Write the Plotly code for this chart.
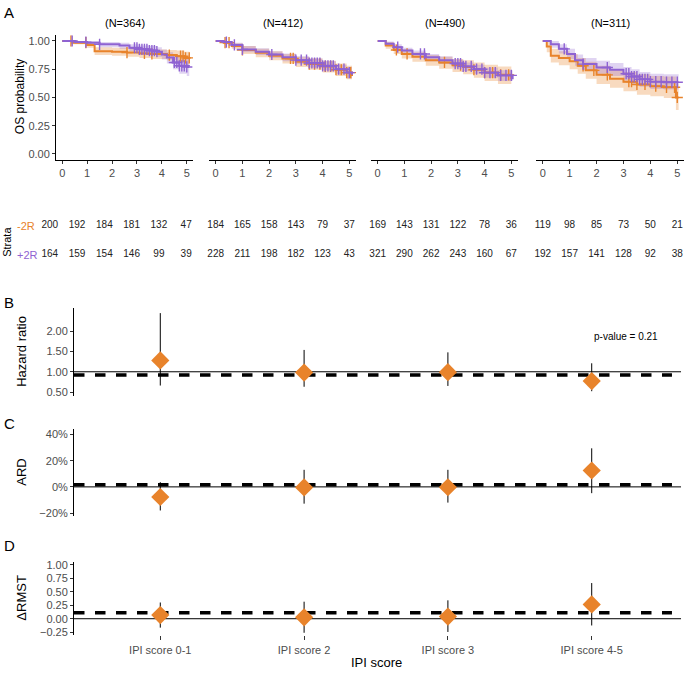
import plotly.graph_objects as go

W, H = 685, 673
ORANGE = '#E8832B'
PURPLE = '#8F63D2'
ORANGE_FILL = 'rgba(232,131,43,0.30)'
PURPLE_FILL = 'rgba(143,99,210,0.28)'
FONT = 'Liberation Sans, Arial, sans-serif'

# ---- data: panel A (Kaplan-Meier by IPI group) ----
n_titles = ['(N=364)', '(N=412)', '(N=490)', '(N=311)']
risk_times = [0, 1, 2, 3, 4, 5]
risk_minus = [[200, 192, 184, 181, 132, 47], [184, 165, 158, 143, 79, 37],
              [169, 143, 131, 122, 78, 36], [119, 98, 85, 73, 50, 21]]
risk_plus = [[164, 159, 154, 146, 99, 39], [228, 211, 198, 182, 123, 43],
             [321, 290, 262, 243, 160, 67], [192, 157, 141, 128, 92, 38]]

# -2R (orange) / +2R (purple) curves: time, survival, lower CI, upper CI
km1_minus_t = [0, 0.4, 1.0, 1.3, 2.0, 2.6, 3.1, 3.6, 4.2, 4.6, 4.9, 5.1]
km1_minus_s = [1.0, 0.985, 0.965, 0.91, 0.905, 0.897, 0.89, 0.885, 0.875, 0.865, 0.85, 0.85]
km1_minus_lo = [1.0, 0.97, 0.94, 0.875, 0.87, 0.86, 0.85, 0.84, 0.83, 0.81, 0.79, 0.79]
km1_minus_hi = [1.0, 1.0, 0.99, 0.945, 0.94, 0.935, 0.93, 0.925, 0.92, 0.915, 0.905, 0.905]
km1_plus_t = [0, 0.5, 1.0, 1.5, 2.3, 2.7, 3.1, 3.5, 3.8, 4.0, 4.2, 4.45, 4.7, 5.0, 5.1]
km1_plus_s = [1.0, 0.99, 0.985, 0.97, 0.96, 0.94, 0.926, 0.915, 0.905, 0.88, 0.853, 0.81, 0.78, 0.77, 0.77]
km1_plus_lo = [1.0, 0.975, 0.965, 0.945, 0.93, 0.91, 0.89, 0.875, 0.86, 0.835, 0.8, 0.75, 0.71, 0.69, 0.69]
km1_plus_hi = [1.0, 1.0, 1.0, 0.99, 0.985, 0.97, 0.96, 0.955, 0.945, 0.925, 0.9, 0.87, 0.845, 0.84, 0.84]

km2_minus_t = [0, 0.3, 0.6, 1.0, 1.5, 2.0, 2.5, 3.0, 3.5, 4.0, 4.5, 4.9, 5.1]
km2_minus_s = [1.0, 0.985, 0.955, 0.92, 0.895, 0.87, 0.845, 0.815, 0.795, 0.775, 0.745, 0.72, 0.69]
km2_minus_lo = [1.0, 0.97, 0.93, 0.885, 0.855, 0.83, 0.8, 0.77, 0.745, 0.72, 0.69, 0.66, 0.62]
km2_minus_hi = [1.0, 1.0, 0.98, 0.955, 0.93, 0.91, 0.885, 0.86, 0.845, 0.825, 0.8, 0.78, 0.76]
km2_plus_t = [0, 0.3, 0.6, 1.0, 1.5, 2.0, 2.5, 3.0, 3.5, 4.0, 4.5, 4.9, 5.1]
km2_plus_s = [1.0, 0.99, 0.965, 0.925, 0.905, 0.88, 0.855, 0.83, 0.805, 0.78, 0.75, 0.72, 0.70]
km2_plus_lo = [1.0, 0.975, 0.945, 0.9, 0.875, 0.85, 0.82, 0.795, 0.765, 0.74, 0.705, 0.67, 0.65]
km2_plus_hi = [1.0, 1.0, 0.985, 0.955, 0.935, 0.91, 0.89, 0.865, 0.845, 0.82, 0.79, 0.77, 0.75]

km3_minus_t = [0, 0.3, 0.6, 0.9, 1.3, 1.8, 2.3, 2.8, 3.2, 3.6, 4.0, 4.5, 5.0]
km3_minus_s = [1.0, 0.96, 0.92, 0.885, 0.86, 0.83, 0.81, 0.785, 0.77, 0.745, 0.72, 0.70, 0.66]
km3_minus_lo = [1.0, 0.93, 0.885, 0.845, 0.815, 0.78, 0.755, 0.725, 0.705, 0.675, 0.645, 0.62, 0.56]
km3_minus_hi = [1.0, 0.99, 0.955, 0.925, 0.9, 0.875, 0.86, 0.84, 0.83, 0.81, 0.79, 0.775, 0.75]
km3_plus_t = [0, 0.3, 0.6, 0.9, 1.3, 1.8, 2.3, 2.8, 3.2, 3.6, 4.0, 4.5, 5.05]
km3_plus_s = [1.0, 0.975, 0.945, 0.915, 0.885, 0.855, 0.83, 0.80, 0.775, 0.75, 0.72, 0.695, 0.66]
km3_plus_lo = [1.0, 0.955, 0.92, 0.89, 0.855, 0.82, 0.795, 0.765, 0.735, 0.71, 0.675, 0.645, 0.61]
km3_plus_hi = [1.0, 0.995, 0.97, 0.94, 0.915, 0.885, 0.865, 0.835, 0.81, 0.79, 0.765, 0.74, 0.71]

km4_minus_t = [0, 0.15, 0.3, 0.6, 1.0, 1.3, 1.6, 2.0, 2.5, 3.0, 3.5, 4.0, 4.5, 4.95, 5.05]
km4_minus_s = [1.0, 0.95, 0.87, 0.85, 0.82, 0.78, 0.74, 0.70, 0.665, 0.64, 0.615, 0.60, 0.59, 0.50, 0.50]
km4_minus_lo = [1.0, 0.9, 0.81, 0.785, 0.75, 0.71, 0.665, 0.62, 0.585, 0.555, 0.525, 0.51, 0.495, 0.39, 0.39]
km4_minus_hi = [1.0, 0.99, 0.93, 0.91, 0.885, 0.85, 0.815, 0.78, 0.75, 0.725, 0.705, 0.69, 0.685, 0.62, 0.62]
km4_plus_t = [0, 0.3, 0.6, 0.9, 1.2, 1.5, 2.0, 2.5, 3.0, 3.3, 3.6, 4.0, 4.5, 5.05]
km4_plus_s = [1.0, 0.97, 0.93, 0.885, 0.83, 0.795, 0.765, 0.745, 0.71, 0.685, 0.66, 0.64, 0.635, 0.635]
km4_plus_lo = [1.0, 0.94, 0.89, 0.84, 0.78, 0.74, 0.71, 0.69, 0.65, 0.62, 0.595, 0.575, 0.57, 0.57]
km4_plus_hi = [1.0, 1.0, 0.97, 0.93, 0.88, 0.85, 0.825, 0.805, 0.77, 0.75, 0.725, 0.71, 0.705, 0.705]

cens1_minus = [0.35, 0.95, 2.6, 3.3, 3.6, 4.3, 4.75, 4.85, 4.95, 5.1]
cens1_plus = [0.4, 0.95, 1.5, 2.9, 3.0, 3.1, 3.2, 3.3, 3.4, 3.5, 3.6, 3.7, 3.8, 4.5, 4.6, 4.7, 4.8, 4.9, 5.0]
cens2_minus = [0.35, 0.5, 1.0, 2.8, 2.9, 3.5, 3.7, 3.9, 4.1, 4.3, 4.5, 4.7, 4.9, 5.05]
cens2_plus = [0.4, 0.7, 1.0, 2.1, 3.0, 3.2, 3.4, 3.5, 3.6, 3.7, 3.8, 3.9, 4.0, 4.1, 4.2, 4.3, 4.4, 4.6, 4.8, 5.0]
cens3_minus = [0.7, 1.1, 2.5, 3.1, 3.6, 4.0, 4.3, 4.6, 4.9]
cens3_plus = [0.75, 1.6, 1.75, 2.9, 3.0, 3.1, 3.2, 3.3, 3.5, 3.7, 3.9, 4.0, 4.2, 4.4, 4.6, 4.8, 5.0]
cens4_minus = [1.5, 1.9, 2.4, 3.2, 3.3, 3.5, 3.8, 4.2, 4.6, 4.9, 5.0]
cens4_plus = [0.8, 1.5, 2.4, 3.1, 3.2, 3.3, 3.4, 3.5, 3.6, 3.7, 3.8, 3.9, 4.0, 4.2, 4.4, 4.6, 4.8, 5.0]

# ---- data: panels B-D ----
ipi_groups = ['IPI score 0-1', 'IPI score 2', 'IPI score 3', 'IPI score 4-5']
hr = [1.28, 0.98, 0.99, 0.77]
hr_lo = [0.66, 0.63, 0.65, 0.52]
hr_hi = [2.45, 1.54, 1.48, 1.21]
hr_overall = 0.92
ard = [-0.077, -0.004, -0.003, 0.125]
ard_lo = [-0.18, -0.128, -0.12, -0.048]
ard_hi = [0.036, 0.13, 0.13, 0.294]
ard_overall = 0.017
drmst = [0.067, 0.026, 0.04, 0.265]
drmst_lo = [-0.165, -0.26, -0.245, -0.125]
drmst_hi = [0.30, 0.315, 0.34, 0.66]
drmst_overall = 0.11


def px_x(a, b):
    return [a / W, b / W]


def px_y(top, bottom):
    return [1 - bottom / H, 1 - top / H]


def surv_at(ts, ss, t):
    val = ss[0]
    for ti, si in zip(ts, ss):
        if ti <= t:
            val = si
    return val


fig = go.Figure()

km_data = [
    (km1_minus_t, km1_minus_s, km1_minus_lo, km1_minus_hi, cens1_minus,
     km1_plus_t, km1_plus_s, km1_plus_lo, km1_plus_hi, cens1_plus),
    (km2_minus_t, km2_minus_s, km2_minus_lo, km2_minus_hi, cens2_minus,
     km2_plus_t, km2_plus_s, km2_plus_lo, km2_plus_hi, cens2_plus),
    (km3_minus_t, km3_minus_s, km3_minus_lo, km3_minus_hi, cens3_minus,
     km3_plus_t, km3_plus_s, km3_plus_lo, km3_plus_hi, cens3_plus),
    (km4_minus_t, km4_minus_s, km4_minus_lo, km4_minus_hi, cens4_minus,
     km4_plus_t, km4_plus_s, km4_plus_lo, km4_plus_hi, cens4_plus),
]

for i, d in enumerate(km_data):
    xa = 'x' if i == 0 else 'x%d' % (i + 1)
    ya = 'y' if i == 0 else 'y%d' % (i + 1)
    groups = [(d[0], d[1], d[2], d[3], d[4], ORANGE, ORANGE_FILL),
              (d[5], d[6], d[7], d[8], d[9], PURPLE, PURPLE_FILL)]
    for t, s, lo, hi, cens, col, fillcol in groups:
        fig.add_trace(go.Scatter(x=t, y=lo, mode='lines', line=dict(width=0, shape='hv'),
                                 xaxis=xa, yaxis=ya, hoverinfo='skip'))
        fig.add_trace(go.Scatter(x=t, y=hi, mode='lines', line=dict(width=0, shape='hv'),
                                 fill='tonexty', fillcolor=fillcol,
                                 xaxis=xa, yaxis=ya, hoverinfo='skip'))
    for t, s, lo, hi, cens, col, fillcol in groups:
        fig.add_trace(go.Scatter(x=t, y=s, mode='lines', line=dict(color=col, width=2, shape='hv'),
                                 xaxis=xa, yaxis=ya))
        fig.add_trace(go.Scatter(x=cens, y=[surv_at(t, s, c) for c in cens], mode='markers',
                                 marker=dict(symbol='cross-thin', size=8,
                                             line=dict(color=col, width=1.4)),
                                 xaxis=xa, yaxis=ya))

# number at risk table
for i in range(4):
    xa = 'x%d' % (i + 5)
    fig.add_trace(go.Scatter(x=risk_times, y=[0.69] * 6, text=[str(v) for v in risk_minus[i]],
                             mode='text', textfont=dict(size=10, color='#222', family=FONT),
                             xaxis=xa, yaxis='y5', cliponaxis=False))
    fig.add_trace(go.Scatter(x=risk_times, y=[0.325] * 6, text=[str(v) for v in risk_plus[i]],
                             mode='text', textfont=dict(size=10, color='#222', family=FONT),
                             xaxis=xa, yaxis='y5', cliponaxis=False))

# panels B, C, D
for ax, vals, lo, hi in [(9, hr, hr_lo, hr_hi), (10, ard, ard_lo, ard_hi), (11, drmst, drmst_lo, drmst_hi)]:
    fig.add_trace(go.Scatter(
        x=ipi_groups, y=vals, mode='markers',
        marker=dict(symbol='diamond', size=14, color=ORANGE),
        error_y=dict(type='data', symmetric=False,
                     array=[h - v for h, v in zip(hi, vals)],
                     arrayminus=[v - l for v, l in zip(vals, lo)],
                     color='black', thickness=1, width=0),
        xaxis='x%d' % ax, yaxis='y%d' % ax))

shapes = []
for ax, ref, overall in [(9, 1.0, hr_overall), (10, 0.0, ard_overall), (11, 0.0, drmst_overall)]:
    shapes.append(dict(type='line', xref='x%d domain' % ax, yref='y%d' % ax, x0=0, x1=1.005,
                       y0=ref, y1=ref, line=dict(color='black', width=1), layer='below'))
    shapes.append(dict(type='line', xref='x%d domain' % ax, yref='y%d' % ax, x0=0, x1=0.99,
                       y0=overall, y1=overall, line=dict(color='black', width=3.5, dash='dash'),
                       layer='below'))

tickfont = dict(size=11, color='#4D4D4D', family=FONT)
layout = dict(
    width=W, height=H, margin=dict(l=0, r=0, t=0, b=0),
    paper_bgcolor='white', plot_bgcolor='white', showlegend=False,
    font=dict(family=FONT, color='black'), shapes=shapes,
)

km_x_px = [(56, 193), (209, 356), (371, 518), (536, 684)]
for i, (a, b) in enumerate(km_x_px):
    k = '' if i == 0 else str(i + 1)
    layout['xaxis' + k] = dict(domain=px_x(a, b), range=[-0.25, 5.25], anchor='y' + k,
                               tickvals=risk_times, ticks='outside', ticklen=3, tickcolor='#333',
                               showline=True, linecolor='black', linewidth=1,
                               showgrid=False, zeroline=False, tickfont=tickfont)
    layout['yaxis' + k] = dict(domain=px_y(32.6, 158), range=[-0.05, 1.05], anchor='x' + k,
                               showgrid=False, zeroline=False,
                               tickvals=[0, 0.25, 0.5, 0.75, 1.0], tickformat='.2f',
                               ticks='outside' if i == 0 else '', ticklen=3, tickcolor='#333',
                               showticklabels=(i == 0), showline=(i == 0),
                               linecolor='black', linewidth=1, tickfont=tickfont)

risk_x_px = [(43, 193), (209, 356), (371, 518), (536, 684)]
for i, (a, b) in enumerate(risk_x_px):
    layout['xaxis%d' % (i + 5)] = dict(domain=px_x(a, b), range=[-0.25, 5.25], anchor='y5',
                                      visible=False)
layout['yaxis5'] = dict(domain=px_y(200, 280), range=[0, 1], anchor='x5', visible=False)

panel_y_px = {9: (308, 397, [0.39, 2.57]), 10: (430, 518, [-0.225, 0.44]), 11: (564, 638, [-0.307, 1.05])}
for ax, (top, bot, rng) in panel_y_px.items():
    last = ax == 11
    layout['xaxis%d' % ax] = dict(domain=px_x(74, 678), range=[-0.6, 3.6], anchor='y%d' % ax,
                                 type='category', categoryarray=ipi_groups,
                                 showline=False, showgrid=False, zeroline=False,
                                 ticks='outside' if last else '', ticklen=4, tickcolor='#333',
                                 showticklabels=last, tickfont=tickfont)
    ydict = dict(domain=px_y(top, bot), range=rng, anchor='x%d' % ax,
                 showline=True, linecolor='black', linewidth=1, showgrid=False, zeroline=False,
                 ticks='outside', ticklen=3, tickcolor='#333', tickfont=tickfont)
    if ax == 9:
        ydict.update(tickvals=[0.5, 1.0, 1.5, 2.0], tickformat='.2f')
    elif ax == 10:
        ydict.update(tickvals=[-0.2, 0, 0.2, 0.4], tickformat='.0%')
    else:
        ydict.update(tickvals=[-0.25, 0, 0.25, 0.5, 0.75, 1.0], tickformat='.2f')
    layout['yaxis%d' % ax] = ydict

fig.update_layout(**layout)


def note(text, x, y, size=11, color='black', angle=0, anchor='center'):
    fig.add_annotation(text=text, x=x / W, y=1 - y / H, xref='paper', yref='paper',
                       showarrow=False, textangle=angle, xanchor=anchor, yanchor='middle',
                       font=dict(size=size, color=color, family=FONT))


note('A', 9, 10, size=15)
note('B', 9, 302, size=15)
note('C', 9, 424, size=15)
note('D', 9, 547, size=15)
for (a, b), title in zip(km_x_px, n_titles):
    note(title, (a + b) / 2, 20, size=11)
note('OS probability', 20, 95, size=12, angle=-90)
note('Strata', 7, 241, size=11, angle=-90)
note('-2R', 26, 225, size=11, color=ORANGE)
note('+2R', 27, 254, size=11, color=PURPLE)
note('Hazard ratio', 22, 352, size=13, angle=-90)
note('ARD', 22, 474, size=13, angle=-90)
note('ΔRMST', 22, 600, size=13, angle=-90)
note('IPI score', 376, 665, size=13)
note('p-value = 0.21', 626, 337, size=10)

# page body has a default 8px margin; drop it so the figure sits at the window origin
fig.write_html("out.html", config={'displayModeBar': False},
               post_script="document.body.style.margin='0';")
